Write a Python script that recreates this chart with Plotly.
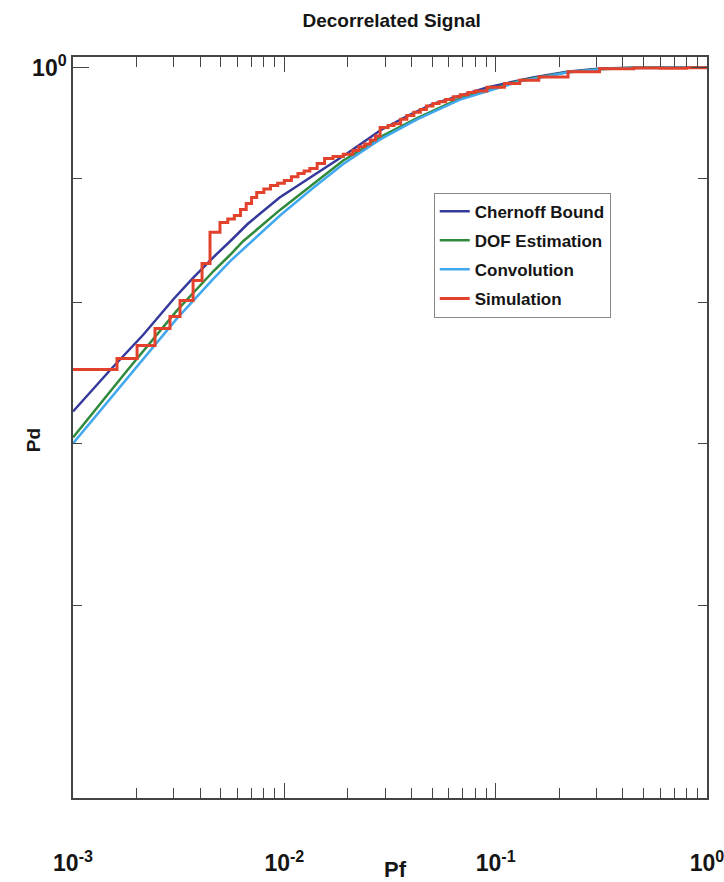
import plotly.graph_objects as go

# ---------------- data ----------------
pf_chernoff = [0.001, 0.0015, 0.00215, 0.003, 0.0037, 0.0046, 0.0057, 0.0067, 0.0095,
               0.0137, 0.0198, 0.0284, 0.0381, 0.0505, 0.0678, 0.0911, 0.1305, 0.150,
               0.2177, 0.312, 0.447, 1.0]
pd_chernoff = [0.7215, 0.7505, 0.7760, 0.8030, 0.8190, 0.8350, 0.8500, 0.8620, 0.8840,
               0.9027, 0.9216, 0.9420, 0.9550, 0.9660, 0.9738, 0.9812, 0.9880, 0.9906,
               0.9960, 0.9990, 0.9998, 1.0]

pf_dof = [0.001, 0.0018, 0.0031, 0.0046, 0.00553, 0.00638, 0.00954, 0.01367, 0.019,
          0.0228, 0.0284, 0.0425, 0.0678, 0.1305, 0.2177, 0.312, 0.447, 1.0]
pd_dof = [0.7040, 0.7500, 0.7940, 0.8240, 0.8370, 0.8480, 0.8736, 0.8955, 0.9156,
          0.9243, 0.9360, 0.9530, 0.9710, 0.9877, 0.9955, 0.9985, 0.9997, 1.0]

pf_conv = [0.001, 0.0018, 0.0031, 0.0046, 0.00553, 0.00954, 0.01367, 0.019, 0.0284,
           0.0425, 0.0678, 0.1305, 0.2177, 0.312, 0.447, 1.0]
pd_conv = [0.7000, 0.7440, 0.7880, 0.8180, 0.8320, 0.8690, 0.8920, 0.9125, 0.9340,
           0.9520, 0.9700, 0.9870, 0.9952, 0.9983, 0.9996, 1.0]

pf_sim = [0.001, 0.001615, 0.00201, 0.002444, 0.002877, 0.00321, 0.0037, 0.00408,
          0.00445, 0.00496, 0.0054, 0.0058, 0.0062, 0.0066, 0.0070, 0.0074, 0.0080,
          0.0086, 0.0093, 0.0100, 0.0108, 0.0116, 0.0124, 0.0132, 0.0143, 0.0155,
          0.0170, 0.0190, 0.0211, 0.0225, 0.024, 0.0255, 0.027, 0.0284, 0.031, 0.033,
          0.0355, 0.038, 0.041, 0.044, 0.047, 0.0505, 0.054, 0.058, 0.063, 0.068,
          0.074, 0.080, 0.091, 0.11, 0.13, 0.16, 0.22, 0.31, 0.45, 0.6, 0.8, 1.0]
pd_sim = [0.7509, 0.7587, 0.7681, 0.7806, 0.7895, 0.8017, 0.8170, 0.8302,
          0.8552, 0.8632, 0.8660, 0.8690, 0.8740, 0.8789, 0.8840, 0.8881, 0.8910,
          0.8941, 0.8960, 0.8984, 0.9015, 0.9044, 0.9065, 0.9086, 0.9130, 0.9173,
          0.9190, 0.9210, 0.9243, 0.9275, 0.9300, 0.9335, 0.9370, 0.9447, 0.9465, 0.9480,
          0.9520, 0.9555, 0.9585, 0.9610, 0.9640, 0.9664, 0.9680, 0.9700, 0.9725, 0.9745,
          0.9765, 0.9780, 0.9815, 0.9850, 0.9880, 0.9910, 0.9960, 0.9988, 0.9995,
          0.9992, 0.9998, 1.0]

x_tickvals = [0.001, 0.01, 0.1, 1.0]
x_ticktext = ["<b>10<sup>-3</sup></b>", "<b>10<sup>-2</sup></b>",
              "<b>10<sup>-1</sup></b>", "<b>10<sup>0</sup></b>"]
x_minor = [m * 10 ** e for e in (-3, -2, -1) for m in range(2, 10)]
y_tickvals = [1.0]
y_ticktext = ["<b>10<sup>0</sup></b>"]
y_minor = [0.6, 0.7, 0.8, 0.9]

FONT = "Liberation Sans, Arial, sans-serif"
INK = "#151515"
AX = "#444"

fig = go.Figure()
series = [
    (pf_chernoff, pd_chernoff, "Chernoff Bound", "#34399b", 2.5, "linear"),
    (pf_dof, pd_dof, "DOF Estimation", "#2f8a3c", 2.5, "linear"),
    (pf_conv, pd_conv, "Convolution", "#41a8f0", 2.5, "linear"),
    (pf_sim, pd_sim, "Simulation", "#e2422b", 3, "hv"),
]
for xs, ys, nm, col, w, shp in series:
    fig.add_trace(go.Scatter(x=xs, y=ys, mode="lines", name=nm, legendgroup=nm,
                             line=dict(color=col, width=w, shape=shp)))

fig.update_layout(
    width=724, height=882,
    margin=dict(l=73, r=17, t=57, b=84, autoexpand=False),
    paper_bgcolor="white", plot_bgcolor="white",
    title=dict(text="<b>Decorrelated Signal</b>", x=0.541, xanchor="center", y=0.977,
               yanchor="middle", font=dict(family=FONT, size=19, color=INK)),
    showlegend=True,
    legend=dict(x=0.569, y=0.817, xanchor="left", yanchor="top",
                bgcolor="white", bordercolor="#888", borderwidth=1,
                font=dict(family=FONT, size=17, color=INK, weight="bold"),
                itemwidth=30, tracegroupgap=4),
    font=dict(family=FONT, color=INK),
    annotations=[
        dict(text="<b>Pf</b>", xref="paper", yref="paper", x=0.508, y=-0.097,
             xanchor="center", yanchor="middle", showarrow=False,
             font=dict(family=FONT, size=22, color=INK)),
        dict(text="<b>Pd</b>", xref="paper", yref="paper", x=-0.063, y=0.483,
             xanchor="center", yanchor="middle", showarrow=False, textangle=-90,
             font=dict(family=FONT, size=19, color=INK)),
    ],
)

fig.update_xaxes(
    type="log", range=[-3, 0], automargin=False,
    showgrid=False, zeroline=False,
    showline=True, linecolor=AX, linewidth=1.5, mirror="ticks",
    ticks="inside", ticklen=15, tickcolor=AX, tickwidth=1,
    tickmode="array", tickvals=x_tickvals, ticktext=x_ticktext,
    tickfont=dict(family=FONT, size=23, color=INK),
    ticklabelstandoff=44, ticklabeloverflow="allow",
    minor=dict(tickmode="array", tickvals=x_minor, ticks="inside", ticklen=10,
               tickcolor=AX, tickwidth=1, showgrid=False),
)
fig.update_yaxes(
    type="log", range=[-0.30103, 0.00432], automargin=False,
    showgrid=False, zeroline=False,
    showline=True, linecolor=AX, linewidth=1.5, mirror="ticks",
    ticks="inside", ticklen=16, tickcolor=AX, tickwidth=1,
    tickmode="array", tickvals=y_tickvals, ticktext=y_ticktext,
    tickfont=dict(family=FONT, size=23, color=INK),
    ticklabeloverflow="allow",
    minor=dict(tickmode="array", tickvals=y_minor, ticks="inside", ticklen=9,
               tickcolor=AX, tickwidth=1, showgrid=False),
)

fig.write_html("out.html")
